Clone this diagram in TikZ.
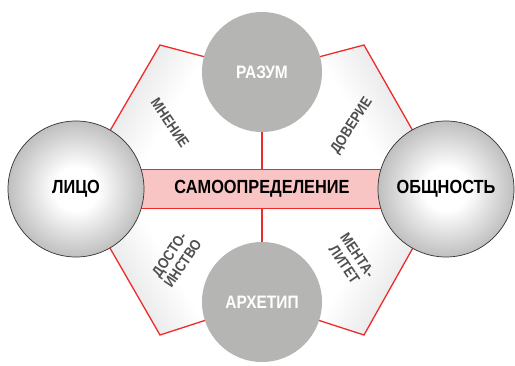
\documentclass[tikz,border=0pt]{standalone}
\usepackage{fontspec}
\usepackage{tikz}
\newfontfamily\condsans{Liberation Sans Bold}[FakeStretch=0.86]
\definecolor{hexred}{HTML}{EE2B2B}
\definecolor{bandpink}{HTML}{F8C4C4}
\definecolor{discgray}{HTML}{B5B5B3}
\definecolor{sidegray}{HTML}{B2B4B8}
\definecolor{lblgray}{HTML}{505050}
\pgfdeclareverticalshading{sectorfade}{100bp}{color(0bp)=(white); color(50bp)=(white);
    color(80bp)=(sidegray!60); color(100bp)=(sidegray)}
\pgfdeclareradialshading{ballfade}{\pgfpoint{0bp}{0bp}}{color(0bp)=(white); color(8bp)=(white);
    color(25bp)=(gray!50); color(50bp)=(gray!50)}

\begin{document}
\begin{tikzpicture}[x=1pt, y=-1pt,
    redline/.style={draw=hexred, line width=1.3pt},
    sector/.style={shading=sectorfade},
    disc/.style={circle, fill=discgray, minimum size=120pt, inner sep=0pt,
                 text=white, font=\condsans\fontsize{18}{20}\selectfont},
    ball/.style={circle, draw=black!80, line width=0.7pt, shading=ballfade,
                 minimum size=136pt, inner sep=0pt,
                 font=\condsans\fontsize{19}{21}\selectfont},
    band/.style={rectangle, fill=bandpink, draw=hexred, line width=1.3pt,
                 minimum width=265pt, minimum height=39pt,
                 font=\condsans\fontsize{19}{21}\selectfont},
    lbl/.style={text=lblgray, align=center, inner sep=0pt,
                font=\condsans\fontsize{15}{16}\selectfont}]
    \useasboundingbox (0,0) rectangle (515,366);
    \coordinate (cT) at (262,72);
    \coordinate (cB) at (262,302);
    \coordinate (cL) at (76,189);
    \coordinate (cR) at (446,189);
    \coordinate (c0) at (262,189);
    \coordinate (tl) at (160,45);
    \coordinate (tr) at (364,45);
    \coordinate (bl) at (160,335);
    \coordinate (br) at (364,335);
    \shade[sector, shading angle=60] (cT) -- (tl) -- (cL) -- (c0) -- cycle;
    \shade[sector, shading angle=-60] (cT) -- (tr) -- (cR) -- (c0) -- cycle;
    \shade[sector, shading angle=120] (cB) -- (bl) -- (cL) -- (c0) -- cycle;
    \shade[sector, shading angle=-120] (cB) -- (br) -- (cR) -- (c0) -- cycle;
    \draw[redline] (cT) -- (tl) -- (cL) -- (bl) -- (cB) -- (br) -- (cR) -- (tr) -- cycle;
    \node[band] (samo) at (c0) {САМООПРЕДЕЛЕНИЕ};
    \node[disc] (razum) at (cT) {РАЗУМ};
    \node[disc] (arhetip) at (cB) {АРХЕТИП};
    \node[ball] (lico) at (cL) {ЛИЦО};
    \node[ball] (obsh) at (cR) {ОБЩНОСТЬ};
    \draw[redline] (razum) -- (samo);
    \draw[redline] (samo) -- (arhetip);
    \node[lbl, rotate=-56] (mnenie) at (170,123) {МНЕНИЕ};
    \node[lbl, rotate=57] (doverie) at (352,126) {ДОВЕРИЕ};
    \node[lbl, rotate=56] (dost) at (176,259) {ДОСТО-\\ИНСТВО};
    \node[lbl, rotate=-56] (ment) at (351,260) {МЕНТА-\\ЛИТЕТ};
\end{tikzpicture}
\end{document}
